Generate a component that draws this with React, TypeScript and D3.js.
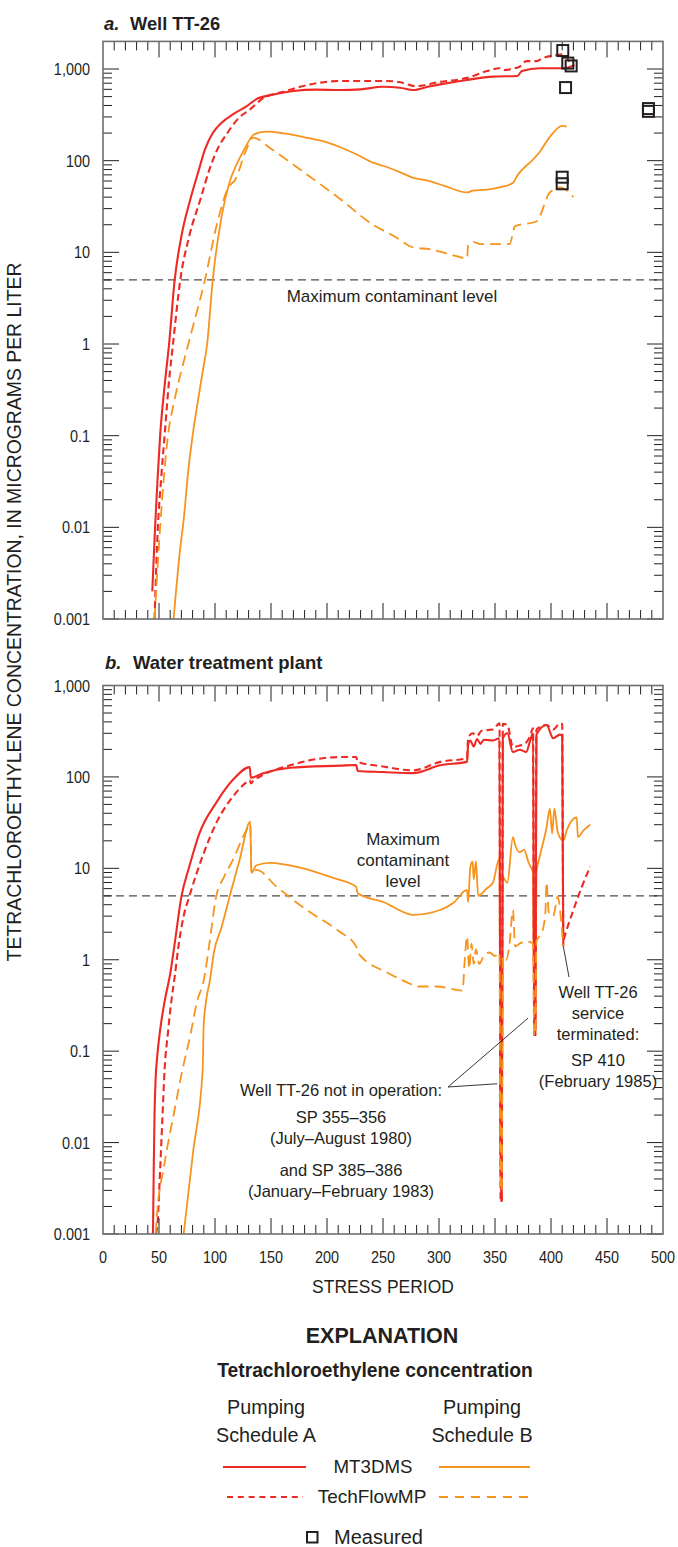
import React from 'react';
import * as d3 from 'd3';

type Pt = [number, number];

// ---------- axis / tick data ----------
const X_MAJOR = [0, 50, 100, 150, 200, 250, 300, 350, 400, 450, 500];
const X_MINOR = d3.range(10, 500, 10).filter((v) => v % 50 !== 0);
const DECADES = [0.001, 0.01, 0.1, 1, 10, 100, 1000];
const DECADE_LABELS = ['0.001', '0.01', '0.1', '1', '10', '100', '1,000'];
const MCL = 5;

// ---------- panel a: Well TT-26 ----------
const aMtA: Pt[] = [
  [44, 0.002], [46.5, 0.01], [48.5, 0.03], [51, 0.1], [55, 0.35], [59, 1], [64, 5], [70, 15], [78, 38],
  [85, 75], [91, 132], [98, 200], [106, 260], [116, 320], [128, 390], [137, 470], [150, 520], [170, 575],
  [190, 595], [212, 590], [230, 600], [250, 640], [265, 625], [277, 590], [290, 640], [301, 680],
  [325, 760], [348, 825], [370, 840], [374, 950], [390, 1020], [411, 1020], [421, 1100],
];
const aTfA: Pt[] = [
  [46, 0.001], [49, 0.01], [52, 0.035], [55, 0.1], [59, 0.4], [62.5, 1], [69, 5], [77, 15], [87, 38],
  [95, 80], [102, 132], [111, 200], [121, 290], [131, 360], [143, 480], [160, 560], [176, 640],
  [212, 740], [253, 740], [265, 720], [279, 650], [300, 720], [325, 800], [343, 950], [354, 1020],
  [357, 975], [372, 1060], [378, 1220], [387, 1220], [393, 1320], [405, 1420], [411, 1450], [417, 1160],
];
const aMtB: Pt[] = [
  [63, 0.001], [69, 0.006], [72, 0.012], [76, 0.04], [80, 0.1], [85, 0.25], [89, 0.5], [93, 1], [98, 5],
  [106, 25], [113, 58], [120, 95], [126, 132], [134, 190], [140, 203], [146, 207], [160, 200],
  [180, 180], [200, 158], [212, 140], [227, 116], [241, 95], [250, 88], [265, 75], [277, 65], [289, 61],
  [305, 53], [325, 45], [330, 47], [346, 49], [357, 52], [366, 57], [370, 69], [384, 103], [390, 125],
  [399, 182], [410, 240], [414, 235],
];
const aTfB: Pt[] = [
  [46, 0.001], [51, 0.01], [58, 0.1], [64, 0.25], [75, 0.88], [91, 5], [102, 21], [112, 51], [118, 62],
  [128, 132], [134, 178], [150, 135], [176, 80], [212, 38], [241, 20], [260, 15], [277, 11.3],
  [292, 10.8], [310, 9.5], [325, 8.6], [326, 12], [331, 12.9], [337, 12.3], [363, 12.3], [368, 19.3],
  [387, 21.7], [399, 45], [408, 51], [420, 40],
];
const aMeasured: Pt[] = [
  [410.5, 1590], [415, 1160], [418, 1080], [413, 627], [410, 66], [410, 56], [487, 370], [487, 345],
];

// ---------- panel b: Water treatment plant ----------
const bMtA: Pt[] = [
  [44.6, 0.001], [45.2, 0.004], [46, 0.02], [47, 0.05], [48.5, 0.09], [51, 0.17], [55, 0.35],
  [60, 0.7], [64, 1.5], [70, 4.9], [77, 10.4], [86, 24], [101, 52], [116, 93], [131, 128], [132, 98],
  [143, 110], [167, 126], [212, 133], [226, 135], [227.5, 116], [250, 113], [277, 110], [301, 134],
  [325, 146], [326, 224], [328, 250], [331, 215], [334, 260], [337, 230], [340, 255], [348, 250],
  [354, 265], [355, 0.0023], [356, 0.0023], [357, 265], [361, 300], [366, 187], [372, 198], [378, 187],
  [381, 240], [384, 300], [385, 0.15], [386, 0.15], [387, 290], [396, 370], [402, 265], [408, 290],
  [410, 280], [411, 1.4],
];
const bTfA: Pt[] = [
  [47.5, 0.001], [49, 0.0015], [51, 0.005], [53, 0.018], [55, 0.063], [58, 0.16], [61, 0.35],
  [64, 0.65], [67, 1.3], [72, 3], [77, 4.9], [90, 14.7], [101, 31], [116, 61], [128, 87], [131, 92],
  [132, 85], [134, 90], [143, 105], [167, 134], [212, 165], [226, 165], [227.5, 146], [250, 130],
  [277, 118], [301, 146], [325, 160], [326, 265], [330, 300], [334, 280], [338, 320], [348, 330],
  [354, 385], [355, 0.0023], [356, 0.0023], [357, 380], [361, 370], [366, 213], [372, 220], [378, 240],
  [381, 275], [384, 340], [385, 0.15], [386, 0.15], [387, 330], [396, 370], [402, 330], [408, 385],
  [410, 380], [411, 1.6], [412, 1.77], [420, 3.5], [428, 6.5], [435, 10.4],
];
const bMtB: Pt[] = [
  [72, 0.001], [80.5, 0.008], [89, 0.063], [89.8, 0.18], [92, 0.35], [95.5, 0.6], [99, 1.2],
  [106, 2.3], [113, 4.9], [122, 12.4], [131.5, 32.5], [132.5, 8.9], [137, 10.8], [149, 11.5],
  [176, 10.2], [205, 7.9], [226, 6.3], [227.5, 5.3], [250, 4.3], [277, 3.1], [301, 3.5], [313, 4.2],
  [325, 5.8], [326, 4.3], [328, 10.4], [330, 11.9], [331, 7.6], [333, 11.9], [335, 5], [343, 6.1],
  [348, 6.9], [354, 13], [355, 0.003], [356, 0.003], [357, 8], [361, 6.9], [366, 22], [368, 18],
  [372, 15], [376, 16], [380, 11.5], [384, 9], [385, 0.2], [386, 0.2], [387, 9], [390, 13.5], [396, 28],
  [399, 45], [401, 24], [403, 45], [406, 25], [411, 20], [414, 26], [423, 36], [424, 22], [429, 26],
  [435, 30],
];
const bTfB: Pt[] = [
  [47, 0.001], [48, 0.0015], [55, 0.006], [63, 0.02], [71, 0.063], [78, 0.15], [84, 0.35], [90, 0.6],
  [95, 1.5], [101, 4.9], [108, 8], [116, 12.4], [128, 26], [131.5, 30], [132.5, 8.9], [137, 9.6],
  [155, 6.3], [182, 3.5], [205, 2.3], [212, 2], [226, 1.4], [227.5, 1.2], [254, 0.72], [271, 0.57],
  [281, 0.51], [298, 0.51], [321, 0.46], [323, 1], [325, 1.8], [327, 0.8], [329, 1.5], [331, 0.9],
  [333, 1.3], [336, 0.9], [340, 1.1], [345, 1.2], [350, 1.1], [354, 1.2], [355, 0.003], [356, 0.003],
  [357, 1.1], [360, 1.0], [363, 1.5], [366, 3.5], [368, 1.4], [372, 1.5], [378, 1.6], [384, 1.5],
  [385, 0.15], [386, 0.15], [387, 1.6], [392, 2], [395, 3.3], [396, 7], [398, 3.3], [402, 3],
  [406, 4.9], [409, 2.7], [411, 1.4],
];

// ---------- style ----------
const RED = '#ee2a24';
const ORANGE = '#f7941d';
const INK = '#231f20';
const FRAME = '#6d6e71';
const FONT = "'Liberation Sans', Arial, sans-serif";

const L = 103;
const R = 663;
const x = d3.scaleLinear().domain([0, 500]).range([L, R]);
const yA = d3.scaleLog().domain([0.001, 1000]).range([619, 69]);
const yB = d3.scaleLog().domain([0.001, 1000]).range([1234, 685.5]);

function minorTicks(): number[] {
  const out: number[] = [];
  for (const d of DECADES.slice(0, -1)) for (let k = 2; k <= 9; k++) out.push(d * k);
  return out;
}

function Panel({ y, topVal, id, series, measured }: {
  y: d3.ScaleLogarithmic<number, number>; topVal: number; id: string;
  series: { data: Pt[]; color: string; dash?: string; w: number }[]; measured?: Pt[];
}) {
  const top = y(topVal);
  const bottom = y(0.001);
  const line = d3.line<Pt>().x((d) => x(d[0])).y((d) => y(d[1])).curve(d3.curveMonotoneX);
  return (
    <g>
      <defs>
        <clipPath id={id}>
          <rect x={L} y={top} width={R - L} height={bottom - top} />
        </clipPath>
      </defs>
      <line x1={L} x2={R} y1={y(MCL)} y2={y(MCL)} stroke="#4d4d4f" strokeWidth={1.3} strokeDasharray="8,5" />
      <g clipPath={`url(#${id})`}>
        {series.map((s, i) => (
          <path key={i} d={line(s.data) || ''} fill="none" stroke={s.color} strokeWidth={s.w}
            strokeDasharray={s.dash} strokeLinejoin="round" />
        ))}
      </g>
      {measured && measured.map((d, i) => (
        <rect key={i} x={x(d[0]) - 5.5} y={y(d[1]) - 5.5} width={11} height={11} fill="none" stroke={INK} strokeWidth={2} />
      ))}
      {X_MINOR.map((v) => (
        <g key={'xm' + v}>
          <line x1={x(v)} x2={x(v)} y1={top} y2={top + 9} stroke={INK} strokeWidth={1} />
          <line x1={x(v)} x2={x(v)} y1={bottom} y2={bottom - 9} stroke={INK} strokeWidth={1} />
        </g>
      ))}
      {X_MAJOR.slice(1, -1).map((v) => (
        <g key={'xM' + v}>
          <line x1={x(v)} x2={x(v)} y1={top} y2={top + 16} stroke={INK} strokeWidth={1} />
          <line x1={x(v)} x2={x(v)} y1={bottom} y2={bottom - 16} stroke={INK} strokeWidth={1} />
        </g>
      ))}
      {minorTicks().map((v) => (
        <g key={'ym' + v}>
          <line x1={L} x2={L + 9} y1={y(v)} y2={y(v)} stroke={INK} strokeWidth={1} />
          <line x1={R} x2={R - 9} y1={y(v)} y2={y(v)} stroke={INK} strokeWidth={1} />
        </g>
      ))}
      {DECADES.map((v, i) => (
        <g key={'yM' + v}>
          <line x1={L} x2={L + 16} y1={y(v)} y2={y(v)} stroke={INK} strokeWidth={1} />
          <line x1={R} x2={R - 16} y1={y(v)} y2={y(v)} stroke={INK} strokeWidth={1} />
          <text transform={`translate(90,${y(v)}) scale(0.85,1)`} dy="0.36em" textAnchor="end"
            fontFamily={FONT} fontSize={17} fill={INK}>
            {DECADE_LABELS[i]}
          </text>
        </g>
      ))}
      <rect x={L} y={top} width={R - L} height={bottom - top} fill="none" stroke={FRAME} strokeWidth={1.6} />
    </g>
  );
}

export default function App() {
  const seriesA = [
    { data: aMtB, color: ORANGE, w: 1.8 },
    { data: aMtA, color: RED, w: 2.1 },
    { data: aTfA, color: RED, w: 2.1, dash: '7,4' },
    { data: aTfB, color: ORANGE, w: 1.8, dash: '11,6' },
  ];
  const seriesB = [
    { data: bMtB, color: ORANGE, w: 1.8 },
    { data: bMtA, color: RED, w: 2.1 },
    { data: bTfA, color: RED, w: 2.1, dash: '7,4' },
    { data: bTfB, color: ORANGE, w: 1.8, dash: '11,6' },
  ];
  const t = { fontFamily: FONT, fill: INK } as const;
  return (
    <svg width={678} height={1547} style={{ position: 'absolute', left: 0, top: 0, background: '#fff' }}>
      <rect width={678} height={1547} fill="#fff" />
      <text x={104} y={30} {...t} fontSize={18.5} fontWeight="bold" fontStyle="italic">a.</text>
      <text x={130} y={30} {...t} fontSize={18.3} fontWeight="bold">Well TT-26</text>
      <text x={105} y={669} {...t} fontSize={18.5} fontWeight="bold" fontStyle="italic">b.</text>
      <text x={133} y={669} {...t} fontSize={18.5} fontWeight="bold">Water treatment plant</text>

      <Panel y={yA} topVal={2000} id="clipA" series={seriesA} measured={aMeasured} />
      <Panel y={yB} topVal={1000} id="clipB" series={seriesB} />

      <text x={392} y={302} textAnchor="middle" {...t} fontSize={17}>Maximum contaminant level</text>
      <text textAnchor="middle" {...t} fontSize={17}>
        <tspan x={403} y={845}>Maximum</tspan>
        <tspan x={403} y={866}>contaminant</tspan>
        <tspan x={403} y={887}>level</tspan>
      </text>

      <text textAnchor="middle" {...t} fontSize={16.5}>
        <tspan x={341} y={1096}>Well TT-26 not in operation:</tspan>
        <tspan x={341} y={1123}>SP 355–356</tspan>
        <tspan x={341} y={1144}>(July–August 1980)</tspan>
        <tspan x={341} y={1176}>and SP 385–386</tspan>
        <tspan x={341} y={1197}>(January–February 1983)</tspan>
      </text>
      <line x1={448} y1={1087} x2={x(352)} y2={yB(0.044)} stroke={INK} strokeWidth={0.9} />
      <line x1={448} y1={1087} x2={x(379.5)} y2={yB(0.23)} stroke={INK} strokeWidth={0.9} />
      <text textAnchor="middle" {...t} fontSize={16.5}>
        <tspan x={598} y={998}>Well TT-26</tspan>
        <tspan x={598} y={1019}>service</tspan>
        <tspan x={598} y={1040}>terminated:</tspan>
        <tspan x={598} y={1066}>SP 410</tspan>
        <tspan x={598} y={1087}>(February 1985)</tspan>
      </text>
      <line x1={x(411)} y1={yB(1.4)} x2={569} y2={977} stroke={INK} strokeWidth={0.9} />

      {X_MAJOR.map((v) => (
        <text key={v} transform={`translate(${x(v)},1263) scale(0.85,1)`} textAnchor="middle"
          fontFamily={FONT} fontSize={17} fill={INK}>{v}</text>
      ))}
      <text transform="translate(383,1293) scale(0.92,1)" textAnchor="middle" fontFamily={FONT} fontSize={19} fill={INK}>
        STRESS PERIOD
      </text>

      <text transform="translate(21,612) rotate(-90)" textAnchor="middle" {...t} fontSize={19.4}>
        TETRACHLOROETHYLENE CONCENTRATION, IN MICROGRAMS PER LITER
      </text>

      <text x={382} y={1343} textAnchor="middle" {...t} fontSize={21.5} fontWeight="bold">EXPLANATION</text>
      <text x={375} y={1377} textAnchor="middle" {...t} fontSize={19.3} fontWeight="bold">Tetrachloroethylene concentration</text>
      <text textAnchor="middle" {...t} fontSize={19.8}>
        <tspan x={266} y={1414}>Pumping</tspan>
        <tspan x={266} y={1442}>Schedule A</tspan>
      </text>
      <text textAnchor="middle" {...t} fontSize={19.8}>
        <tspan x={482} y={1414}>Pumping</tspan>
        <tspan x={482} y={1442}>Schedule B</tspan>
      </text>
      <line x1={223} x2={306} y1={1467} y2={1467} stroke={RED} strokeWidth={2} />
      <text x={373} y={1473} textAnchor="middle" {...t} fontSize={18.7}>MT3DMS</text>
      <line x1={439} x2={530} y1={1467} y2={1467} stroke={ORANGE} strokeWidth={1.8} />
      <line x1={227} x2={303} y1={1497} y2={1497} stroke={RED} strokeWidth={2} strokeDasharray="6,4.8" />
      <text x={372} y={1503} textAnchor="middle" {...t} fontSize={19}>TechFlowMP</text>
      <line x1={439} x2={529} y1={1497} y2={1497} stroke={ORANGE} strokeWidth={1.8} strokeDasharray="9,7" />
      <rect x={307} y={1532} width={10.5} height={10.5} fill="none" stroke={INK} strokeWidth={2} />
      <text x={334} y={1544} {...t} fontSize={20}>Measured</text>
    </svg>
  );
}
